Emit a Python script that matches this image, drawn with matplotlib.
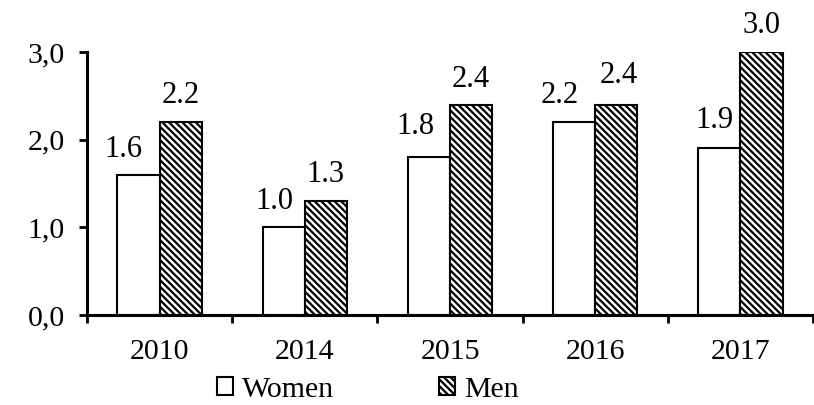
import matplotlib
matplotlib.use("Agg")
import matplotlib.pyplot as plt
import numpy as np

years = ['2010', '2014', '2015', '2016', '2017']
women = [1.6, 1.0, 1.8, 2.2, 1.9]
men = [2.2, 1.3, 2.4, 2.4, 3.0]
yticks = [0.0, 1.0, 2.0, 3.0]
ytick_labels = ['0,0', '1,0', '2,0', '3,0']

# label offsets in pixels (dx, dy above bar top)
women_dx = [-15, -9, -14, -14, -5]
women_dy = [18, 18, 23, 19, 20]
men_dx = [0, 0, 0, 2, 0]
men_dy = [19, 19, 18, 22, 19]

plt.rcParams['font.family'] = ['Liberation Serif', 'DejaVu Serif']
plt.rcParams['hatch.linewidth'] = 1.6
FS = 21.5

fig = plt.figure(figsize=(8.14, 4.05), dpi=100)
ax = fig.add_axes([87 / 814, 1 - 315 / 405, (813 - 87) / 814, (315 - 52) / 405])

x = np.arange(len(years))
w = 0.29
b1 = ax.bar(x - w / 2, women, w, color='white', edgecolor='black', linewidth=1.5, label='Women')
b2 = ax.bar(x + w / 2, men, w, color='white', edgecolor='black', linewidth=1.5,
            hatch='\\\\\\\\\\', label='Men')

for i in range(len(years)):
    ax.annotate(f'{women[i]:.1f}', (x[i] - w / 2, women[i]), xytext=(women_dx[i], women_dy[i]),
                textcoords='offset pixels', ha='center', va='baseline', fontsize=FS + 0.5, clip_on=False)
    ax.annotate(f'{men[i]:.1f}', (x[i] + w / 2, men[i]), xytext=(men_dx[i], men_dy[i]),
                textcoords='offset pixels', ha='center', va='baseline', fontsize=FS + 0.5, clip_on=False)

ax.set_xlim(-0.5, len(years) - 0.5)
ax.set_ylim(0, 3.0)
ax.set_yticks(yticks)
ax.set_yticklabels(ytick_labels, fontsize=FS)
ax.set_xticks(x)
ax.set_xticklabels(years, fontsize=FS)
ax.set_xticks(np.arange(len(years) + 1) - 0.5, minor=True)
ax.tick_params(axis='x', which='major', length=0, pad=17)
ax.tick_params(axis='x', which='minor', length=6, width=2, direction='out')
ax.tick_params(axis='y', length=6, width=2, pad=10)

for s in ['top', 'right']:
    ax.spines[s].set_visible(False)
for s in ['left', 'bottom']:
    ax.spines[s].set_linewidth(2.2)

fig.legend(handles=[b1, b2], loc='center', bbox_to_anchor=(0.452, 1 - 390 / 405), ncol=2,
           frameon=False, fontsize=FS, handlelength=0.55, handleheight=0.55,
           handletextpad=0.3, columnspacing=3.5, borderpad=0)

fig.savefig('out.png', dpi=100)
